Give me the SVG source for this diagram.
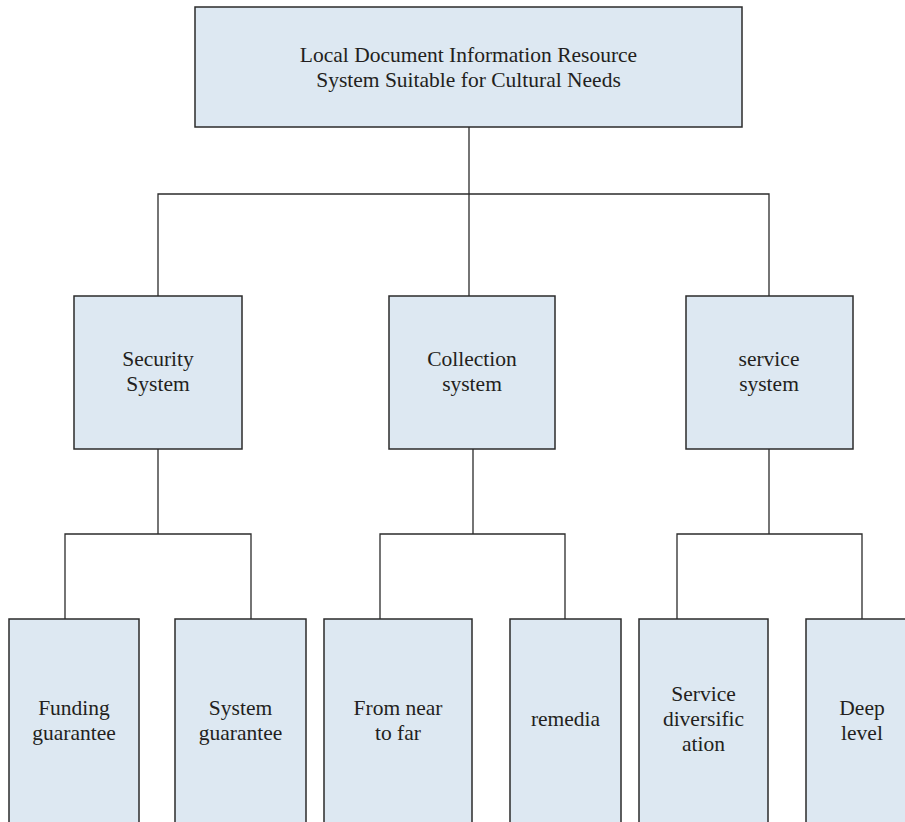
<svg xmlns="http://www.w3.org/2000/svg" width="905" height="822" viewBox="0 0 905 822">
<style>
.box{fill:#dde8f2;stroke:#2b2b2b;stroke-width:1.5}
.ln{fill:none;stroke:#2b2b2b;stroke-width:1.3}
text{font-family:"Liberation Serif","Times New Roman",serif;font-size:21.5px;fill:#231f20;text-anchor:middle}
</style>
<rect width="905" height="822" fill="#ffffff"/>
<g id="connectors">
<path class="ln" d="M469,127 V296 M158,296 V194 H769 V296"/>
<path class="ln" d="M158,449 V534 M65,619 V534 H251 V619"/>
<path class="ln" d="M473,449 V534 M380,619 V534 H565 V619"/>
<path class="ln" d="M769,449 V534 M677,619 V534 H862 V619"/>
</g>
<g id="root">
<rect class="box" x="195" y="7" width="547" height="120"/>
<text x="468.5" y="62">Local Document Information Resource</text>
<text x="468.5" y="87">System Suitable for Cultural Needs</text>
</g>
<g id="security">
<rect class="box" x="74" y="296" width="168" height="153"/>
<text x="158" y="366">Security</text>
<text x="158" y="391">System</text>
</g>
<g id="collection">
<rect class="box" x="389" y="296" width="166" height="153"/>
<text x="472" y="366">Collection</text>
<text x="472" y="391">system</text>
</g>
<g id="service">
<rect class="box" x="686" y="296" width="167" height="153"/>
<text x="769" y="366">service</text>
<text x="769" y="391">system</text>
</g>
<g id="funding">
<rect class="box" x="9" y="619" width="130" height="220"/>
<text x="74" y="715">Funding</text>
<text x="74" y="740">guarantee</text>
</g>
<g id="sysguarantee">
<rect class="box" x="175" y="619" width="131" height="220"/>
<text x="240.5" y="715">System</text>
<text x="240.5" y="740">guarantee</text>
</g>
<g id="nearfar">
<rect class="box" x="324" y="619" width="148" height="220"/>
<text x="398" y="715">From near</text>
<text x="398" y="740">to far</text>
</g>
<g id="remedia">
<rect class="box" x="510" y="619" width="111" height="220"/>
<text x="565.5" y="726">remedia</text>
</g>
<g id="diversification">
<rect class="box" x="639" y="619" width="129" height="220"/>
<text x="703.5" y="701">Service</text>
<text x="703.5" y="726">diversific</text>
<text x="703.5" y="751">ation</text>
</g>
<g id="deep">
<rect class="box" x="806" y="619" width="120" height="220"/>
<text x="862" y="715">Deep</text>
<text x="862" y="740">level</text>
</g>
</svg>
